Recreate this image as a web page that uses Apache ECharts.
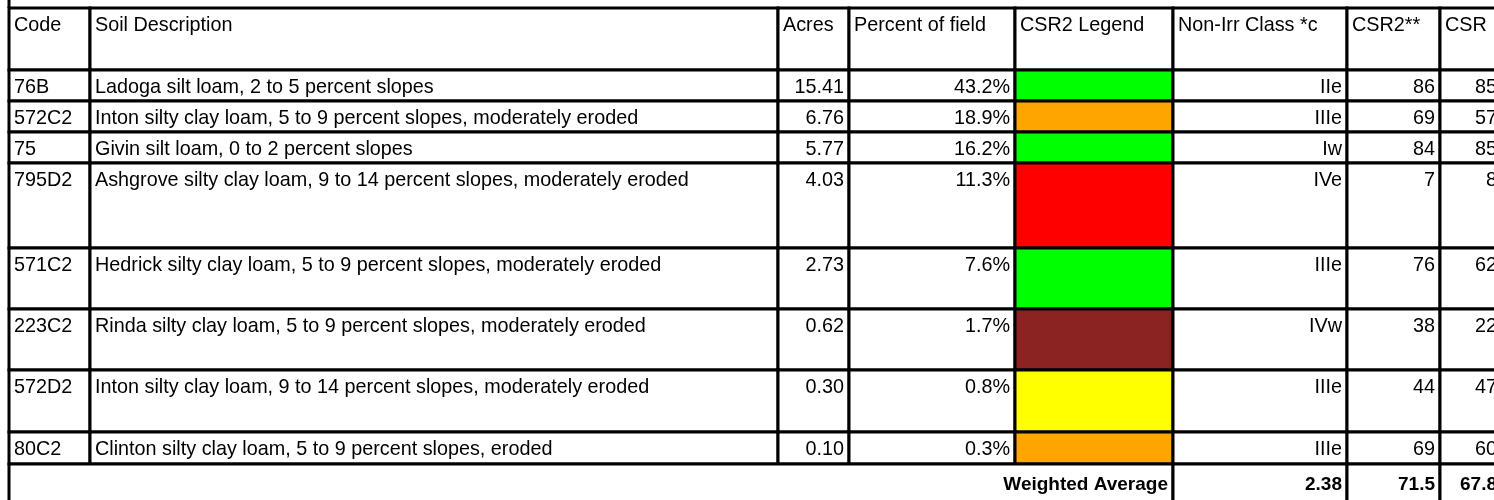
<!DOCTYPE html>
<html>
<head>
<meta charset="utf-8">
<script src="https://cdn.jsdelivr.net/npm/echarts@6/dist/echarts.min.js"></script>
<style>
html,body{margin:0;padding:0;background:#fff;}
#chart{width:1494px;height:500px;}
</style>
</head>
<body>
<div id="chart"></div>
<script>
// ---- data ----
const headers = ['Code', 'Soil Description', 'Acres', 'Percent of field', 'CSR2 Legend', 'Non-Irr Class *c', 'CSR2**', 'CSR'];
const codes = ['76B', '572C2', '75', '795D2', '571C2', '223C2', '572D2', '80C2'];
const descriptions = [
  'Ladoga silt loam, 2 to 5 percent slopes',
  'Inton silty clay loam, 5 to 9 percent slopes, moderately eroded',
  'Givin silt loam, 0 to 2 percent slopes',
  'Ashgrove silty clay loam, 9 to 14 percent slopes, moderately eroded',
  'Hedrick silty clay loam, 5 to 9 percent slopes, moderately eroded',
  'Rinda silty clay loam, 5 to 9 percent slopes, moderately eroded',
  'Inton silty clay loam, 9 to 14 percent slopes, moderately eroded',
  'Clinton silty clay loam, 5 to 9 percent slopes, eroded'
];
const acres = [15.41, 6.76, 5.77, 4.03, 2.73, 0.62, 0.30, 0.10];
const percentOfField = [43.2, 18.9, 16.2, 11.3, 7.6, 1.7, 0.8, 0.3];
const csr2Legend = ['green', 'orange', 'green', 'red', 'green', 'brown', 'yellow', 'orange'];
const nonIrrClass = ['IIe', 'IIIe', 'Iw', 'IVe', 'IIIe', 'IVw', 'IIIe', 'IIIe'];
const csr2 = [86, 69, 84, 7, 76, 38, 44, 69];
const csr = [85, 57, 85, 8, 62, 22, 47, 60];
const weightedLabel = 'Weighted Average';
const weightedNonIrr = 2.38;
const weightedCsr2 = 71.5;
const weightedCsr = 67.8;

// ---- layout / style ----
const colEdges = [9, 90, 778, 849, 1015, 1173, 1347, 1440, 1502];
const rowEdges = [8, 70, 101, 132, 163, 248, 309, 370, 432, 464, 540];
const legendColors = { green: '#00FF00', orange: '#FFA500', red: '#FF0000', brown: '#8B2323', yellow: '#FFFF00' };
const FONT = '"Liberation Sans", Arial, sans-serif';
const FS = 19.8;
const FS_BOLD = 19;

// build cells
const cells = [];
headers.forEach((h, c) => cells.push({ c0: c, c1: c + 1, r: 0, text: h, align: 'left' }));
codes.forEach((code, i) => {
  const r = i + 1;
  cells.push({ c0: 0, c1: 1, r, text: code, align: 'left' });
  cells.push({ c0: 1, c1: 2, r, text: descriptions[i], align: 'left' });
  cells.push({ c0: 2, c1: 3, r, text: acres[i].toFixed(2), align: 'right' });
  cells.push({ c0: 3, c1: 4, r, text: percentOfField[i].toFixed(1) + '%', align: 'right' });
  cells.push({ c0: 4, c1: 5, r, text: '', fill: legendColors[csr2Legend[i]] });
  cells.push({ c0: 5, c1: 6, r, text: nonIrrClass[i], align: 'right' });
  cells.push({ c0: 6, c1: 7, r, text: String(csr2[i]), align: 'right' });
  cells.push({ c0: 7, c1: 8, r, text: String(csr[i]), align: 'right' });
});
const wr = codes.length + 1;
cells.push({ c0: 0, c1: 5, r: wr, text: weightedLabel, align: 'right', bold: true });
cells.push({ c0: 5, c1: 6, r: wr, text: weightedNonIrr.toFixed(2), align: 'right', bold: true });
cells.push({ c0: 6, c1: 7, r: wr, text: weightedCsr2.toFixed(1), align: 'right', bold: true });
cells.push({ c0: 7, c1: 8, r: wr, text: weightedCsr.toFixed(1), align: 'right', bold: true });

const chart = echarts.init(document.getElementById('chart'), null, { renderer: 'canvas' });

function renderCell(params, api) {
  const cell = cells[params.dataIndex];
  const p0 = api.coord([colEdges[cell.c0], rowEdges[cell.r]]);
  const p1 = api.coord([colEdges[cell.c1], rowEdges[cell.r + 1]]);
  const x = p0[0], y = p0[1], w = p1[0] - p0[0], h = p1[1] - p0[1];
  const children = [{
    type: 'rect',
    shape: { x, y, width: w, height: h },
    style: { fill: cell.fill || '#fff', stroke: '#000', lineWidth: 3 }
  }];
  if (cell.text) {
    children.push({
      type: 'text',
      style: {
        text: cell.text,
        x: cell.align === 'right' ? x + w - 5 : x + 5,
        y: y + (cell.bold ? 21 : 18),
        align: cell.align,
        verticalAlign: 'middle',
        font: (cell.bold ? 'bold ' + FS_BOLD : FS) + 'px ' + FONT,
        fill: '#000'
      }
    });
  }
  return { type: 'group', children };
}

function renderTopLeft(params, api) {
  const a = api.coord([colEdges[0], 0]);
  const b = api.coord([colEdges[0], rowEdges[0]]);
  return { type: 'line', shape: { x1: a[0], y1: a[1], x2: b[0], y2: b[1] }, style: { stroke: '#000', lineWidth: 3 } };
}

chart.setOption({
  animation: false,
  grid: { left: 0, right: 0, top: 0, bottom: 0 },
  xAxis: { type: 'value', min: 0, max: 1494, show: false },
  yAxis: { type: 'value', min: 0, max: 500, inverse: true, show: false },
  series: [
    { type: 'custom', renderItem: renderCell, data: cells.map(c => [colEdges[c.c0], rowEdges[c.r]]), clip: true, silent: true },
    { type: 'custom', renderItem: renderTopLeft, data: [[colEdges[0], 0]], silent: true }
  ]
});
</script>
</body>
</html>
